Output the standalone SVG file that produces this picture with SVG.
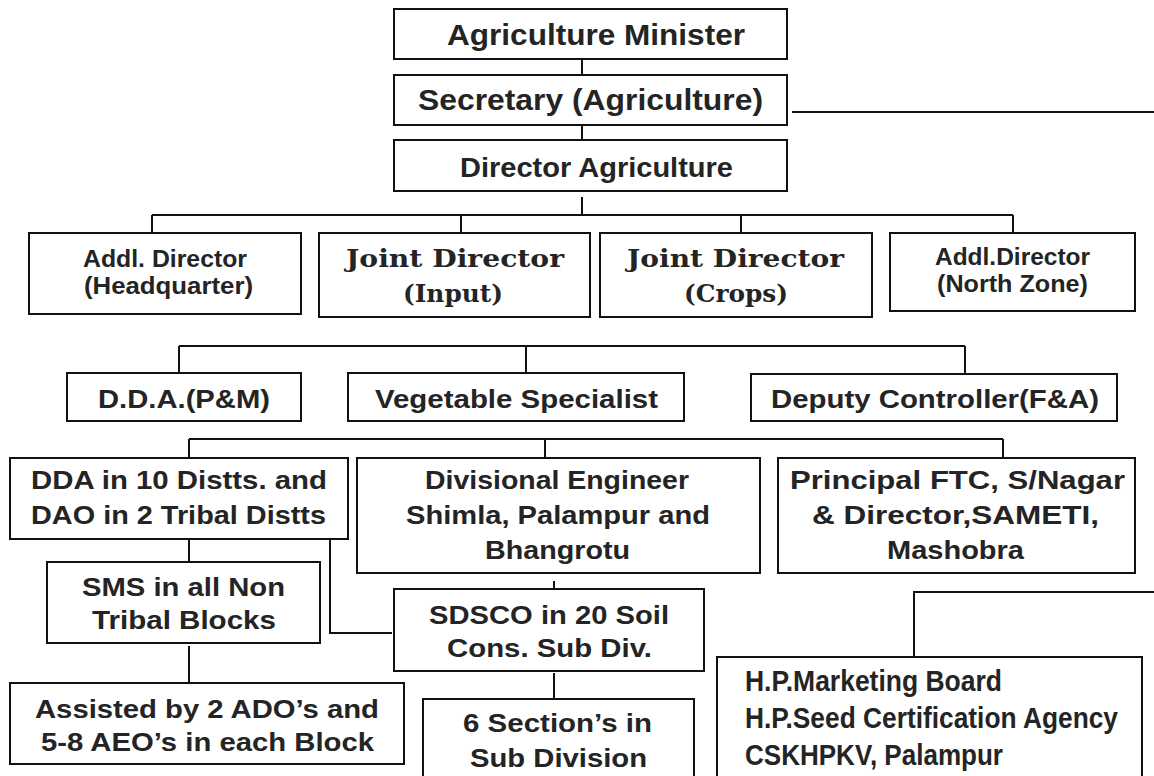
<svg xmlns="http://www.w3.org/2000/svg" width="1154" height="776" viewBox="0 0 1154 776">
<style>
.box{fill:#fff;stroke:#111;stroke-width:2}
.ln{fill:none;stroke:#111;stroke-width:2}
text{fill:#242424;font-weight:bold}
.s{font-family:"Liberation Sans",Arial,Helvetica,sans-serif}
.n{font-family:"Liberation Sans Narrow","Liberation Sans",Arial,sans-serif}
.f{font-family:"DejaVu Serif","Liberation Serif",serif}
</style>
<rect width="1154" height="776" fill="#fff"/>
<g id="connectors">
<path class="ln" d="M582 59V75M582 125V140M582 197V215M152 215H1013M152 215V233M461 215V233M741 215V233M1013 215V233"/>
<path class="ln" d="M792 112H1154"/>
<path class="ln" d="M179 346H965M179 346V373M526 346V373M965 346V374"/>
<path class="ln" d="M189 439H1003M189 439V458M545 439V458M1003 439V458"/>
<path class="ln" d="M189 539V562M189 646V683M330 537V633H392M554 581V589M554 673V699"/>
<path class="ln" d="M1154 592H914V657"/>
</g>
<g id="n1"><rect class="box" x="394" y="9" width="393" height="50"/><text class="s" x="447" y="45" font-size="29" textLength="298" lengthAdjust="spacingAndGlyphs">Agriculture Minister</text></g>
<g id="n2"><rect class="box" x="394" y="75" width="393" height="50"/><text class="s" x="418" y="110" font-size="29" textLength="345" lengthAdjust="spacingAndGlyphs">Secretary (Agriculture)</text></g>
<g id="n3"><rect class="box" x="394" y="140" width="393" height="51"/><text class="s" x="460" y="177" font-size="28" font-weight="600" textLength="273" lengthAdjust="spacingAndGlyphs">Director Agriculture</text></g>
<g id="n4"><rect class="box" x="29" y="233" width="272" height="81"/><text class="n" x="83" y="267" font-size="24" textLength="164" lengthAdjust="spacingAndGlyphs">Addl. Director</text><text class="n" x="84" y="294" font-size="24" textLength="169" lengthAdjust="spacingAndGlyphs">(Headquarter)</text></g>
<g id="n5"><rect class="box" x="319" y="233" width="271" height="84"/><text class="f" x="346" y="267" font-size="25" textLength="218" lengthAdjust="spacingAndGlyphs">Joint Director</text><text class="f" x="403" y="302" font-size="25" textLength="100" lengthAdjust="spacingAndGlyphs">(Input)</text></g>
<g id="n6"><rect class="box" x="600" y="233" width="272" height="84"/><text class="f" x="627" y="267" font-size="25" textLength="217" lengthAdjust="spacingAndGlyphs">Joint Director</text><text class="f" x="684" y="302" font-size="25" textLength="104" lengthAdjust="spacingAndGlyphs">(Crops)</text></g>
<g id="n7"><rect class="box" x="890" y="233" width="245" height="78"/><text class="n" x="935" y="265" font-size="24" textLength="155" lengthAdjust="spacingAndGlyphs">Addl.Director</text><text class="n" x="937" y="292" font-size="24" textLength="151" lengthAdjust="spacingAndGlyphs">(North Zone)</text></g>
<g id="n8"><rect class="box" x="67" y="373" width="234" height="48"/><text class="s" x="98" y="408" font-size="26" textLength="172" lengthAdjust="spacingAndGlyphs">D.D.A.(P&amp;M)</text></g>
<g id="n9"><rect class="box" x="348" y="373" width="336" height="48"/><text class="s" x="375" y="408" font-size="26" textLength="283" lengthAdjust="spacingAndGlyphs">Vegetable Specialist</text></g>
<g id="n10"><rect class="box" x="751" y="374" width="366" height="47"/><text class="s" x="771" y="408" font-size="26" textLength="328" lengthAdjust="spacingAndGlyphs">Deputy Controller(F&amp;A)</text></g>
<g id="n11"><rect class="box" x="10" y="458" width="338" height="81"/><text class="s" x="31" y="489" font-size="26" textLength="296" lengthAdjust="spacingAndGlyphs">DDA in 10 Distts. and</text><text class="s" x="31" y="524" font-size="26" textLength="295" lengthAdjust="spacingAndGlyphs">DAO in 2 Tribal Distts</text></g>
<g id="n12"><rect class="box" x="357" y="458" width="403" height="115"/><text class="s" x="425" y="489" font-size="26" textLength="264" lengthAdjust="spacingAndGlyphs">Divisional Engineer</text><text class="s" x="406" y="524" font-size="26" textLength="304" lengthAdjust="spacingAndGlyphs">Shimla, Palampur and</text><text class="s" x="485" y="559" font-size="26" textLength="145" lengthAdjust="spacingAndGlyphs">Bhangrotu</text></g>
<g id="n13"><rect class="box" x="778" y="458" width="357" height="115"/><text class="s" x="790" y="489" font-size="26" textLength="335" lengthAdjust="spacingAndGlyphs">Principal FTC, S/Nagar</text><text class="s" x="812" y="524" font-size="26" textLength="287" lengthAdjust="spacingAndGlyphs">&amp; Director,SAMETI,</text><text class="s" x="887" y="559" font-size="26" textLength="137" lengthAdjust="spacingAndGlyphs">Mashobra</text></g>
<g id="n14"><rect class="box" x="47" y="562" width="273" height="81"/><text class="s" x="82" y="596" font-size="26" textLength="203" lengthAdjust="spacingAndGlyphs">SMS in all Non</text><text class="s" x="92" y="629" font-size="26" textLength="184" lengthAdjust="spacingAndGlyphs">Tribal Blocks</text></g>
<g id="n15"><rect class="box" x="394" y="589" width="310" height="82"/><text class="s" x="429" y="624" font-size="26" textLength="240" lengthAdjust="spacingAndGlyphs">SDSCO in 20 Soil</text><text class="s" x="447" y="657" font-size="26" textLength="205" lengthAdjust="spacingAndGlyphs">Cons. Sub Div.</text></g>
<g id="n16"><rect class="box" x="10" y="683" width="394" height="81"/><text class="s" x="35" y="718" font-size="26" textLength="344" lengthAdjust="spacingAndGlyphs">Assisted by 2 ADO’s and</text><text class="s" x="41" y="751" font-size="26" textLength="333" lengthAdjust="spacingAndGlyphs">5-8 AEO’s in each Block</text></g>
<g id="n17"><rect class="box" x="423" y="699" width="271" height="90"/><text class="s" x="463" y="732" font-size="26" textLength="189" lengthAdjust="spacingAndGlyphs">6 Section’s in</text><text class="s" x="470" y="767" font-size="26" textLength="177" lengthAdjust="spacingAndGlyphs">Sub Division</text></g>
<g id="n18"><rect class="box" x="717" y="657" width="425" height="132"/><text class="n" x="745" y="691" font-size="29" textLength="257" lengthAdjust="spacingAndGlyphs">H.P.Marketing Board</text><text class="n" x="745" y="728" font-size="29" textLength="373" lengthAdjust="spacingAndGlyphs">H.P.Seed Certification Agency</text><text class="n" x="745" y="765" font-size="29" textLength="258" lengthAdjust="spacingAndGlyphs">CSKHPKV, Palampur</text></g>
</svg>
